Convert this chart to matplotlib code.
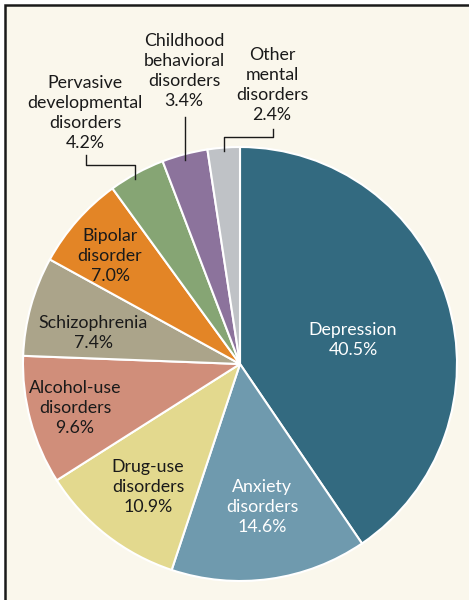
import matplotlib.pyplot as plt
from matplotlib.patches import Rectangle

categories = [
    "Depression", "Anxiety\ndisorders", "Drug-use\ndisorders", "Alcohol-use\ndisorders",
    "Schizophrenia", "Bipolar\ndisorder", "Pervasive\ndevelopmental\ndisorders",
    "Childhood\nbehavioral\ndisorders", "Other\nmental\ndisorders",
]
shares = [40.5, 14.6, 10.9, 9.6, 7.4, 7.0, 4.2, 3.4, 2.4]
colors = ["#336a80", "#6f9aae", "#e3d98e", "#d08e7a", "#aba48a",
          "#e38526", "#86a574", "#8c739c", "#bfc2c6"]

# label centres in pixel coords (x, y from top)
label_pos = [(353, 340), (262, 507), (148, 487), (75, 408), (93, 333),
             (110, 256), (85, 113), (184, 71), (272, 85)]
label_color = ["white", "white"] + ["#1a1a1a"] * 7

W, H = 469, 600
BG = "#faf7ec"

plt.rcParams['font.family'] = ['Lato', 'DejaVu Sans']

fig = plt.figure(figsize=(W / 100, H / 100), dpi=100, facecolor="white")
ax = fig.add_axes([0, 0, 1, 1])

# cream panel with top/left rule
ax.add_patch(Rectangle((5, -20), W + 20, H - 5 + 20, facecolor=BG,
                       edgecolor="#1a1a1a", linewidth=1.8, zorder=0))

ax.pie(shares, colors=colors, startangle=90, counterclock=False,
       radius=217, center=(240, H - 364), frame=True,
       wedgeprops=dict(edgecolor="white", linewidth=1.5))
ax.set_xlim(0, W)
ax.set_ylim(0, H)
ax.axis("off")

for name, val, (x, y), c in zip(categories, shares, label_pos, label_color):
    ax.text(x, H - y, f"{name}\n{val:.1f}%", ha="center", va="center",
            fontsize=12.8, color=c, linespacing=1.32)

# leader lines
leaders = [
    [(86, 155), (86, 165), (135, 165), (135, 179)],
    [(185, 117), (185, 160)],
    [(273, 129), (273, 137), (224, 137), (224, 151)],
]
for pts in leaders:
    ax.plot([p[0] for p in pts], [H - p[1] for p in pts], color="#1a1a1a", lw=1)

fig.savefig("out.png", dpi=100, facecolor="white")
